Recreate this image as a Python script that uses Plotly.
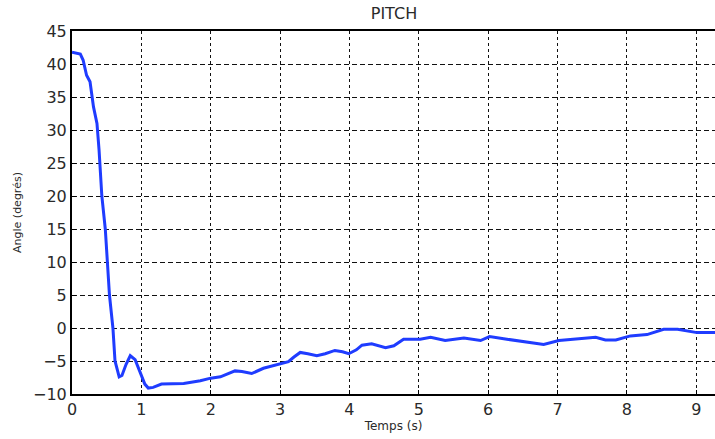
import plotly.graph_objects as go

time_s = [0, 0.06, 0.12, 0.16, 0.21, 0.26, 0.31, 0.36, 0.39, 0.43, 0.48, 0.51, 0.54, 0.59, 0.62,
          0.68, 0.72, 0.78, 0.84, 0.91, 0.96, 1.0, 1.05, 1.1, 1.17, 1.29, 1.45, 1.61, 1.85, 2.0,
          2.14, 2.25, 2.35, 2.45, 2.59, 2.76, 3.0, 3.12, 3.2, 3.29, 3.4, 3.53, 3.65, 3.79, 3.9,
          3.99, 4.1, 4.18, 4.32, 4.45, 4.52, 4.64, 4.78, 5.02, 5.17, 5.38, 5.45, 5.6, 5.65, 5.89,
          6.02, 6.27, 6.56, 6.8, 7.02, 7.23, 7.55, 7.69, 7.84, 8.05, 8.29, 8.53, 8.73, 9.01, 9.28]
pitch_deg = [41.8, 41.7, 41.5, 40.6, 38.3, 37.3, 33.5, 31.0, 27.0, 20.0, 15.0, 10.0, 5.0, 0.0, -5.0,
             -7.4, -7.2, -5.5, -4.2, -4.8, -6.2, -7.4, -8.5, -9.1, -9.0, -8.5, -8.4, -8.4, -8.0, -7.6,
             -7.4, -6.9, -6.5, -6.6, -6.9, -6.1, -5.5, -5.1, -4.4, -3.7, -3.9, -4.2, -3.9, -3.4, -3.6,
             -3.9, -3.3, -2.6, -2.4, -2.8, -3.0, -2.7, -1.7, -1.7, -1.4, -1.9, -1.8, -1.6, -1.5, -1.9,
             -1.3, -1.7, -2.2, -2.5, -1.9, -1.7, -1.4, -1.8, -1.8, -1.2, -1.0, -0.2, -0.2, -0.7, -0.7]

x_ticks = list(range(0, 10))
y_ticks = list(range(-10, 50, 5))

fig = go.Figure()
fig.add_trace(go.Scatter(x=time_s, y=pitch_deg, mode="lines",
                         line=dict(color="#1f3cff", width=3), showlegend=False))

tickfont = dict(family="DejaVu Sans", size=16, color="#2a2a2a")
fig.update_layout(
    width=715, height=439,
    margin=dict(l=72, r=0, t=31, b=45),
    paper_bgcolor="white", plot_bgcolor="white",
    title=dict(text="PITCH", x=0.551, y=0.970, xanchor="center", yanchor="middle",
               font=dict(family="DejaVu Sans", size=16, color="#2a2a2a")),
    xaxis=dict(range=[0, 9.27], tickvals=x_ticks, ticks="inside", ticklen=4, tickcolor="black",
               showline=True, linecolor="black", linewidth=2, mirror=True,
               showgrid=True, gridcolor="#111111", gridwidth=1.3, griddash="3px,3px",
               zeroline=False, tickfont=tickfont,
               title=dict(text="Temps (s)", font=dict(family="DejaVu Sans", size=12, color="#2a2a2a"),
                          standoff=3)),
    yaxis=dict(range=[-10, 45], tickvals=y_ticks, ticks="inside", ticklen=4, tickcolor="black",
               showline=True, linecolor="black", linewidth=2, mirror=False,
               showgrid=True, gridcolor="#111111", gridwidth=1.3, griddash="5px,3px",
               zeroline=False, tickfont=tickfont,
               title=dict(text="Angle (degrés)", font=dict(family="DejaVu Sans", size=11, color="#2a2a2a"),
                          standoff=9)),
)
fig.write_html("out.html")
